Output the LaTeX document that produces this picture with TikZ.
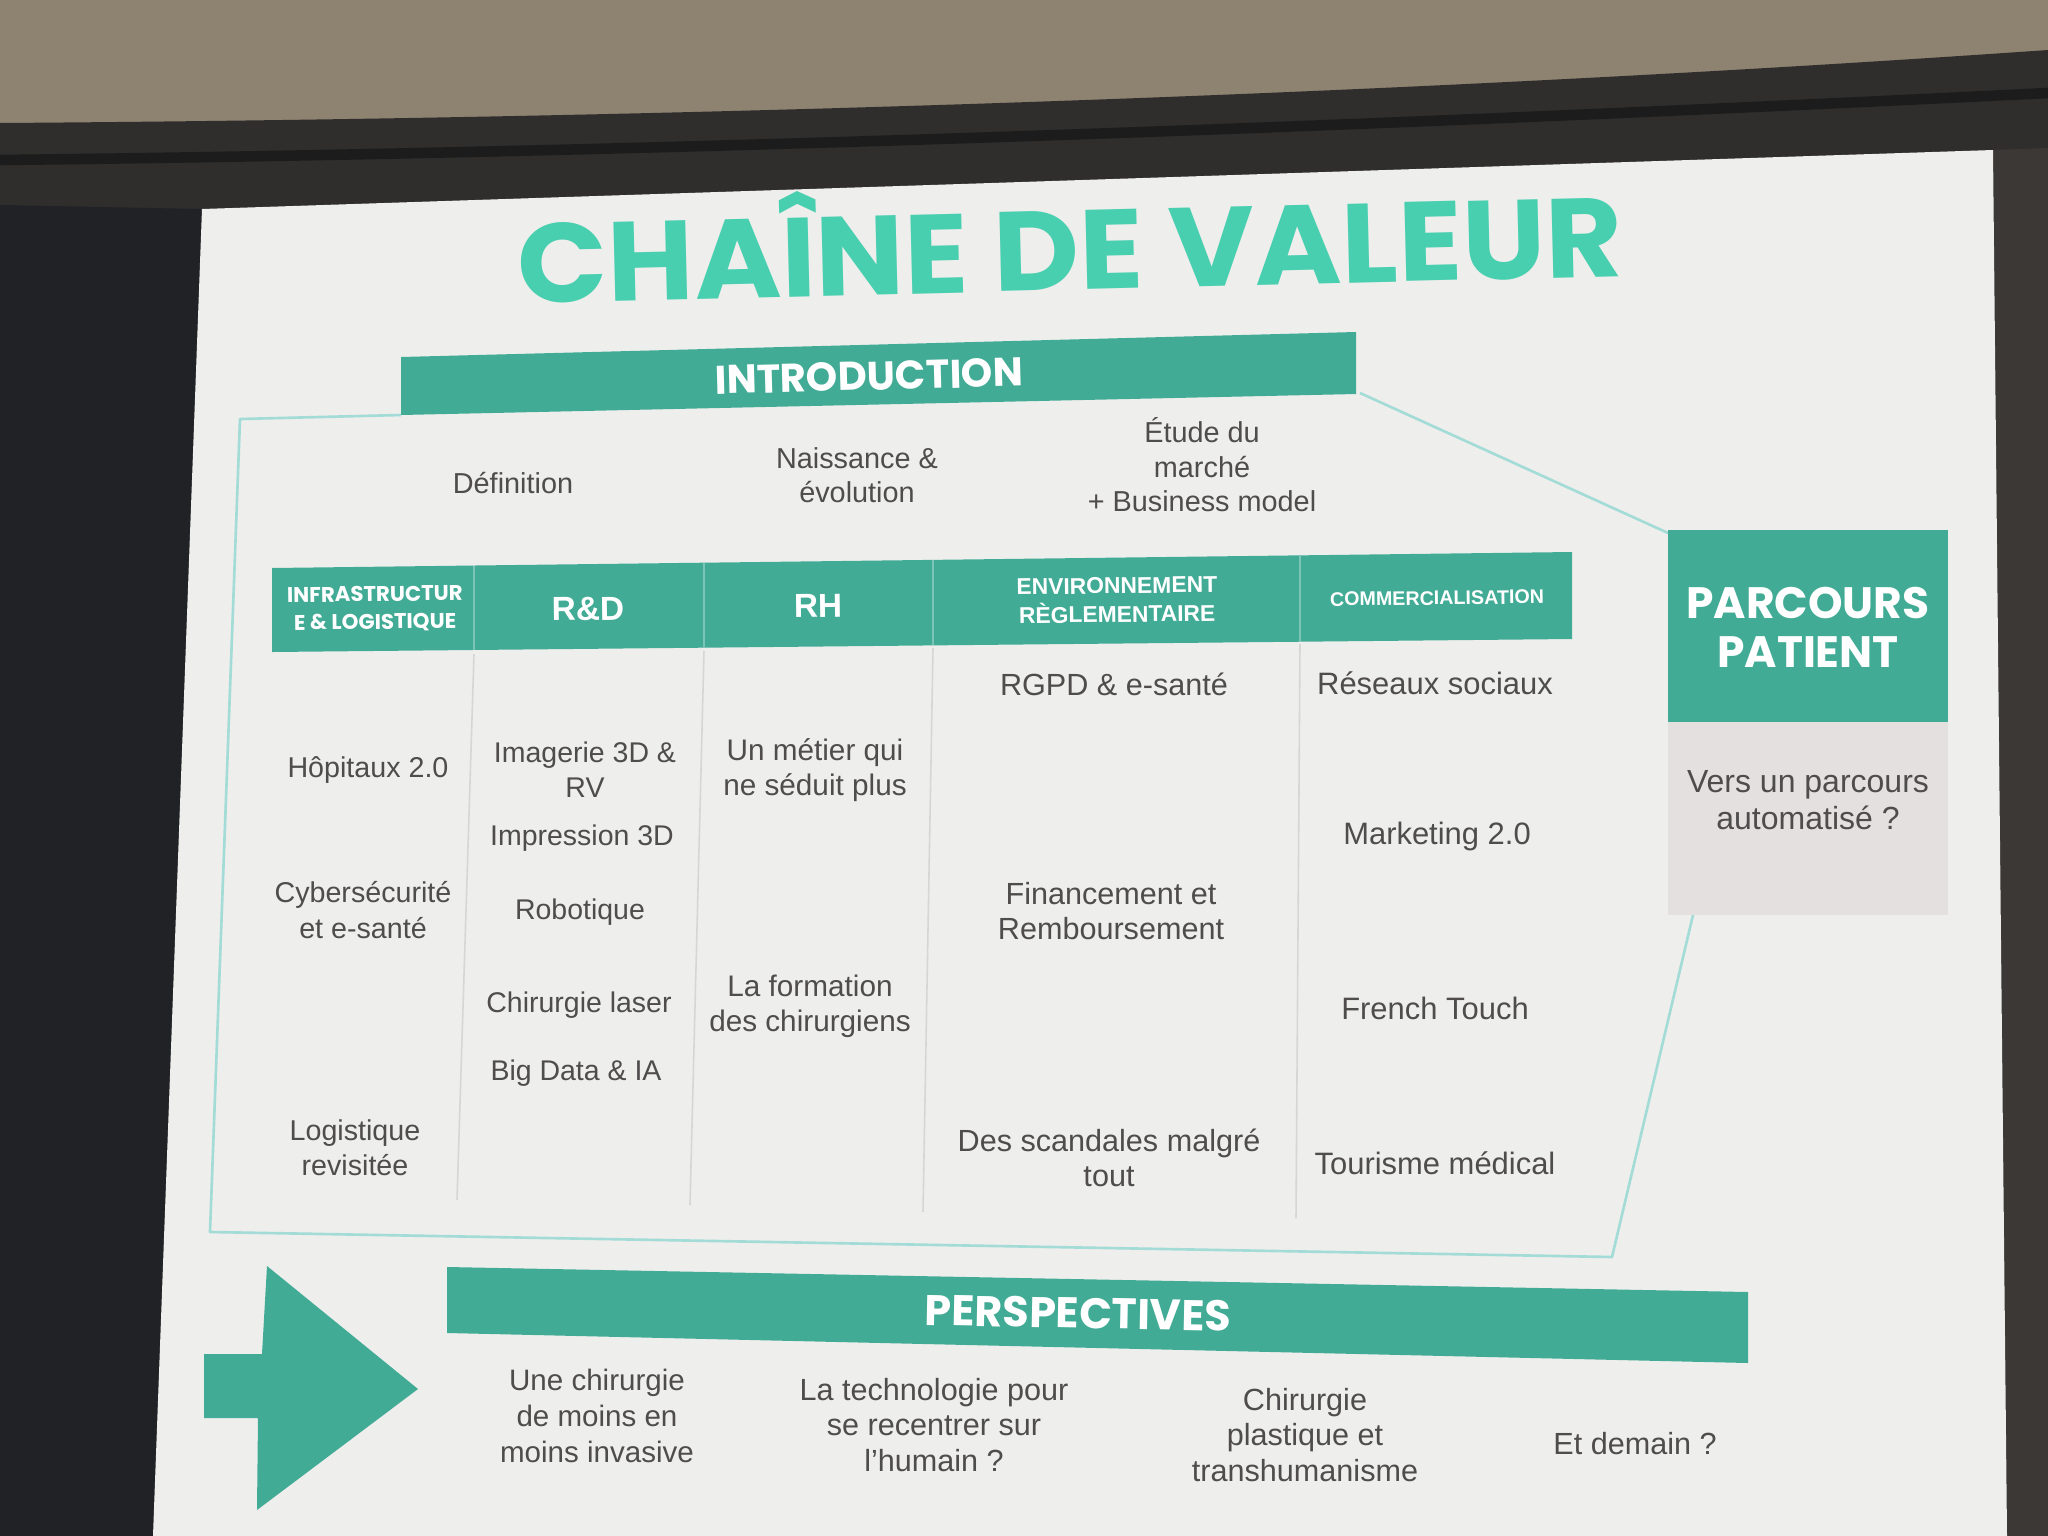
\documentclass[tikz,border=0pt]{standalone}
\usepackage{fontspec}
\setmainfont{Liberation Sans}
\newfontfamily\pop{Poppins}
\definecolor{taupe}{HTML}{8E8270}
\definecolor{bezel}{HTML}{2F2E2D}
\definecolor{bandc}{HTML}{1C1C1C}
\definecolor{leftdark}{HTML}{212226}
\definecolor{rightdark}{HTML}{3C3835}
\definecolor{slidec}{HTML}{EEEEEC}
\definecolor{tealc}{HTML}{41AB95}
\definecolor{titlec}{HTML}{48CFAF}
\definecolor{outlc}{HTML}{A3DCD6}
\definecolor{txtc}{HTML}{4E4C4C}
\definecolor{grayb}{HTML}{E4E0E0}
\definecolor{divc}{HTML}{D6D6D6}
\definecolor{hdiv}{HTML}{7CC4B6}
\begin{document}
\begin{tikzpicture}[x=0.01cm, y=-0.01cm,
  itemtxt/.style={font=\fontsize{8.7}{10}\selectfont, text=txtc, align=center, inner sep=0pt},
  colA/.style={itemtxt, font=\fontsize{8.15}{10}\selectfont},
  colB/.style={itemtxt, font=\fontsize{8.1}{10}\selectfont},
  colC/.style={itemtxt, font=\fontsize{8.45}{10}\selectfont},
  colD/.style={itemtxt, font=\fontsize{8.7}{10}\selectfont},
  colE/.style={itemtxt, font=\fontsize{8.8}{10}\selectfont},
  introtxt/.style={font=\fontsize{8.2}{9.8}\selectfont, text=txtc, align=center, inner sep=0pt},
  perstxt/.style={font=\fontsize{8.7}{10.2}\selectfont, text=txtc, align=center, inner sep=0pt},
  bartitle/.style={font=\pop\bfseries\fontsize{11.4}{13}\selectfont, text=white, inner sep=0pt},
  colhead/.style={font=\bfseries\fontsize{9.5}{11}\selectfont, text=white, align=center, inner sep=0pt},
  smallhead/.style={font=\bfseries\fontsize{6.5}{8.2}\selectfont, text=white, align=center, inner sep=0pt},
  outline/.style={draw=outlc, line width=0.75pt, line join=round},
  coldiv/.style={draw=divc, line width=0.45pt},
  teal fill/.style={fill=tealc}
]
% ---------- background (photo surroundings) ----------
\useasboundingbox (0,0) rectangle (2048,1536);
\fill[taupe] (0,0) rectangle (2048,1536);
\fill[bezel] (0,123) .. controls (700,118) and (1400,95) .. (2048,50) -- (2048,1536) -- (0,1536) -- cycle;
\draw[bandc, line width=3pt] (0,160) .. controls (700,152) and (1400,125) .. (2048,93);
\fill[leftdark] (0,205) -- (202,209) -- (153,1536) -- (0,1536) -- cycle;
\fill[rightdark] (1993,150) -- (2048,148) -- (2048,1536) -- (2007,1536) -- cycle;
% ---------- slide ----------
\fill[slidec] (202,209) -- (1993,150) -- (2007,1536) -- (153,1536) -- cycle;

% title
\node[font=\pop\bfseries\fontsize{32}{32}\selectfont, text=titlec, rotate=1.4, anchor=base, inner sep=0pt]
  (title) at (1071,290) {\scalebox{1.05}[1]{CHAÎNE DE VALEUR}};

% outline of the value chain frame
\coordinate (oA) at (401,415);
\coordinate (oB) at (240,419);
\coordinate (oC) at (210,1232);
\coordinate (oD) at (1612,1257);
\coordinate (oE) at (1693,915);
\coordinate (oF) at (1360,393);
\coordinate (oG) at (1668,533);
\draw[outline] (oA) -- (oB) -- (oC) -- (oD) -- (oE);
\draw[outline] (oF) -- (oG);

% INTRODUCTION bar
\fill[teal fill] (401,357) -- (1356,332) -- (1356,394) -- (401,415) -- cycle;
\node[bartitle, rotate=1.5] (intro) at (869,376) {INTRODUCTION};

% intro items
\node[introtxt] (def) at (513,483) {Définition};
\node[introtxt] (nais) at (857,475) {Naissance \&\\évolution};
\node[introtxt] (etude) at (1202,465) {Étude du\\marché\\+ Business model};

% header bar
\fill[teal fill] (272,568) -- (1572,552) -- (1572,639) -- (272,652) -- cycle;
\draw[hdiv, line width=0.4pt] (474,566) -- (474,650);
\draw[hdiv, line width=0.4pt] (704,563) -- (704,648);
\draw[hdiv, line width=0.4pt] (933,560) -- (933,645);
\draw[hdiv, line width=0.4pt] (1300,556) -- (1300,642);
\node[smallhead, font=\pop\bfseries\fontsize{6.05}{7.9}\selectfont, rotate=0.7] (h1) at (375,609) {INFRASTRUCTUR\\E \& LOGISTIQUE};
\node[colhead, rotate=0.7] (h2) at (588,609) {R\&D};
\node[colhead, rotate=0.7] (h3) at (818,606) {RH};
\node[smallhead, rotate=0.7] (h4) at (1117,600) {ENVIRONNEMENT\\RÈGLEMENTAIRE};
\node[smallhead, font=\bfseries\fontsize{5.6}{7}\selectfont, rotate=0.7] (h5) at (1437,598) {COMMERCIALISATION};

% column dividers
\draw[coldiv] (474,654) -- (457,1200);
\draw[coldiv] (704,651) -- (690,1205);
\draw[coldiv] (933,648) -- (923,1212);
\draw[coldiv] (1300,644) -- (1296,1218);

% column 1
\node[colA] (c1a) at (368,770) {Hôpitaux 2.0};
\node[colA] (c1b) at (363,910) {Cybersécurité\\et e-santé};
\node[colA] (c1c) at (355,1148) {Logistique\\revisitée};
% column 2
\node[colB] (c2a) at (585,770) {Imagerie 3D \&\\RV};
\node[colB] (c2b) at (582,838) {Impression 3D};
\node[colB] (c2c) at (580,912) {Robotique};
\node[colB] (c2d) at (579,1005) {Chirurgie laser};
\node[colB] (c2e) at (576,1073) {Big Data \& IA};
% column 3
\node[colC] (c3a) at (815,770) {Un métier qui\\ne séduit plus};
\node[colC] (c3b) at (810,1006) {La formation\\des chirurgiens};
% column 4
\node[colD] (c4a) at (1114,684) {RGPD \& e-santé};
\node[colD] (c4b) at (1111,911) {Financement et\\Remboursement};
\node[colD] (c4c) at (1109,1158) {Des scandales malgré\\tout};
% column 5
\node[colE] (c5a) at (1435,683) {Réseaux sociaux};
\node[colE] (c5b) at (1437,836) {Marketing 2.0};
\node[colE] (c5c) at (1435,1008) {French Touch};
\node[colE] (c5d) at (1435,1163) {Tourisme médical};

% PARCOURS PATIENT box
\fill[grayb] (1668,722) rectangle (1948,915);
\fill[teal fill] (1668,530) rectangle (1948,722);
\node[font=\pop\bfseries\fontsize{12.5}{14}\selectfont, text=white, align=center, inner sep=0pt]
  (parcours) at (1808,627) {PARCOURS\\PATIENT};
\node[font=\fontsize{9.1}{10.4}\selectfont, text=txtc, align=center, inner sep=0pt]
  (vers) at (1808,800) {Vers un parcours\\automatisé ?};

% big arrow
\fill[teal fill] (204,1354) -- (262,1354) -- (267,1266) -- (418,1389) -- (257,1510) -- (258,1418) -- (204,1418) -- cycle;

% PERSPECTIVES bar
\fill[teal fill] (447,1267) -- (1748,1292) -- (1748,1363) -- (447,1333) -- cycle;
\node[bartitle, font=\pop\bfseries\fontsize{12.2}{13}\selectfont, rotate=-1.1] (persp) at (1078,1313) {PERSPECTIVES};

% perspective items
\node[perstxt, font=\fontsize{8.4}{10.2}\selectfont] (p1) at (597,1416) {Une chirurgie\\de moins en\\moins invasive};
\node[perstxt] (p2) at (934,1425) {La technologie pour\\se recentrer sur\\l’humain ?};
\node[perstxt] (p3) at (1305,1435) {Chirurgie\\plastique et\\transhumanisme};
\node[perstxt] (p4) at (1635,1444) {Et demain ?};
\end{tikzpicture}
\end{document}
